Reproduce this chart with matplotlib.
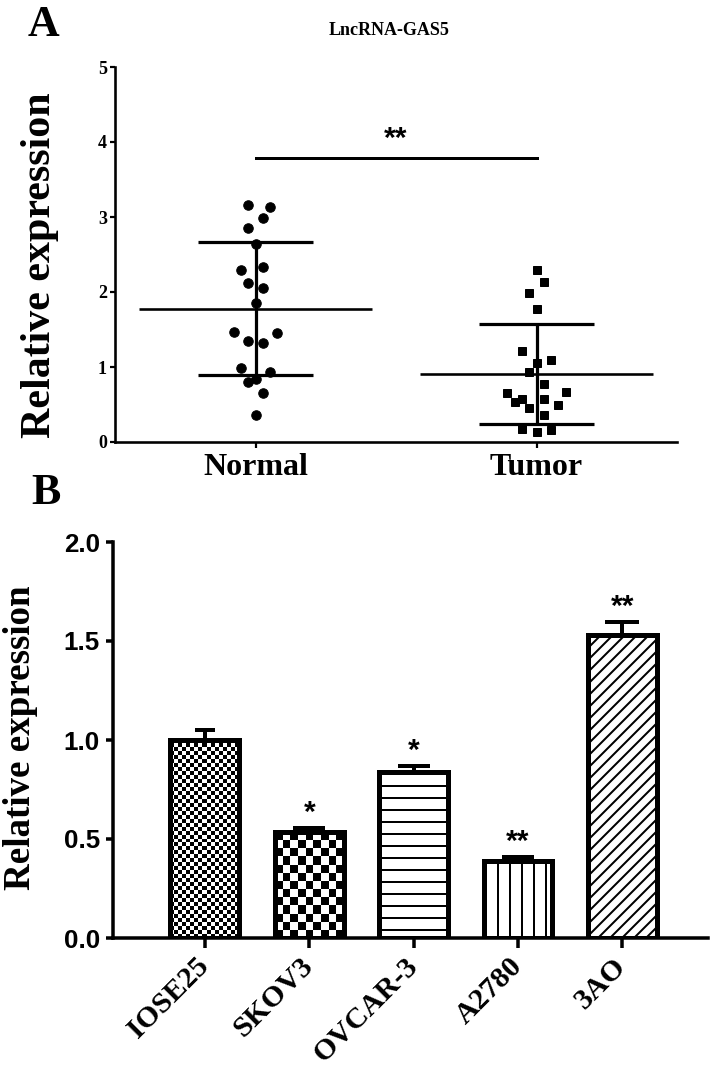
import numpy as np
import matplotlib
matplotlib.use('Agg')
import matplotlib.pyplot as plt

# panel A: relative expression of each sample
groups = ['Normal', 'Tumor']
normal_vals = [3.16, 3.13, 2.99, 2.85, 2.64, 2.34, 2.30, 2.12, 2.06, 1.85,
               1.47, 1.45, 1.35, 1.32, 0.99, 0.93, 0.84, 0.80, 0.65, 0.36]
normal_cols = [-1, 2, 1, -1, 0, 1, -2, -1, 1, 0, -3, 3, -1, 1, -2, 2, 0, -1, 1, 0]
tumor_vals = [2.30, 2.14, 1.99, 1.78, 1.21, 1.10, 1.06, 0.93, 0.77, 0.67,
              0.66, 0.58, 0.58, 0.54, 0.50, 0.46, 0.36, 0.18, 0.16, 0.14]
tumor_cols = [0, 1, -1, 0, -2, 2, 0, -1, 1, 4, -4, -2, 1, -3, 3, -1, 1, -2, 2, 0]

# panel B: cell lines
cell_lines = ['IOSE25', 'SKOV3', 'OVCAR-3', 'A2780', '3AO']
expr = [1.00, 0.535, 0.84, 0.39, 1.53]
expr_err = [0.05, 0.02, 0.03, 0.02, 0.065]
stars = ['', '*', '*', '**', '**']

W, H = 714, 1068
DPI = 72
plt.rcParams['hatch.linewidth'] = 2.0
plt.rcParams['font.family'] = ['Liberation Serif', 'DejaVu Serif']
serif = dict(family='Liberation Serif', weight='bold')
sans = dict(family='Liberation Sans', weight='bold')

fig = plt.figure(figsize=(W / DPI, H / DPI), dpi=DPI)


def px_box(x0, y0, x1, y1):
    # figure pixel box (top-left origin) -> add_axes rect
    return [x0 / W, 1 - y1 / H, (x1 - x0) / W, (y1 - y0) / H]


# ---------------- panel A ----------------
axA = fig.add_axes(px_box(115, 67, 677, 442))
step = 0.026
for i, (vals, cols, mk, ms) in enumerate([(normal_vals, normal_cols, 'o', 9.5),
                                            (tumor_vals, tumor_cols, 's', 8.5)]):
    vals = np.array(vals)
    xs = i + np.array(cols) * step
    axA.plot(xs, vals, linestyle='none', marker=mk, ms=ms, color='black', zorder=3)
    m = vals.mean()
    sd = vals.std(ddof=1)
    axA.hlines(m, i - 0.415, i + 0.415, color='black', lw=2.6, zorder=2)
    axA.vlines(i, m - sd, m + sd, color='black', lw=3.2, zorder=2)
    axA.hlines([m - sd, m + sd], i - 0.205, i + 0.205, color='black', lw=3.2, zorder=2)

# significance bar
axA.plot([0, 1], [3.79, 3.79], color='black', lw=3)
axA.text(0.5, 3.86, '**', ha='center', va='bottom', fontsize=30, **sans)

axA.set_xlim(-0.5, 1.5)
axA.set_ylim(0, 5)
axA.set_yticks([0, 1, 2, 3, 4, 5])
axA.set_xticks([0, 1])
axA.set_xticklabels(groups, fontsize=32, **serif)
for lab in axA.get_yticklabels():
    lab.set_fontsize(18)
    lab.set_fontweight('bold')
for s in ['top', 'right']:
    axA.spines[s].set_visible(False)
for s in ['left', 'bottom']:
    axA.spines[s].set_linewidth(2.6)
axA.tick_params(axis='y', length=5, width=2.2, pad=3)
axA.tick_params(axis='x', length=6, width=2.2, pad=5)

fig.text(28 / W, 1 - 36 / H, 'A', ha='left', va='baseline', fontsize=44, **serif)
fig.text(389 / W, 1 - 35 / H, 'LncRNA-GAS5', ha='center', va='baseline', fontsize=18, **serif)
fig.text(40 / W, 1 - 265 / H, 'Relative expression', rotation=90, ha='center', va='center',
         fontsize=42, **serif)

# ---------------- panel B ----------------
axB = fig.add_axes(px_box(113, 542, 708, 938))
xpos = np.arange(len(cell_lines))
bars = axB.bar(xpos, expr, width=0.66, color='white', edgecolor='black', lw=5, zorder=3)
axB.set_xlim(-0.88, 4.82)
axB.set_ylim(0, 2.0)

hatches = [None, None, '-', '|', '//']
for b, h in zip(bars, hatches):
    if h:
        b.set_hatch(h)

# checkerboard fills for the first two bars, clipped to the bar outline
px_per_x = axB.transData.transform((1, 0))[0] - axB.transData.transform((0, 0))[0]
px_per_y = axB.transData.transform((0, 1))[1] - axB.transData.transform((0, 0))[1]
for b, sq in zip(bars[:2], [4.0, 8.0]):
    x0, w, hgt = b.get_x(), b.get_width(), b.get_height()
    ncol = int(round(w * px_per_x / sq))
    nrow = int(round(hgt * px_per_y / sq))
    board = (np.add.outer(np.arange(nrow), np.arange(ncol)) % 2).astype(float)
    im = axB.imshow(board, extent=(x0, x0 + w, 0, hgt), cmap='gray', vmin=0, vmax=1,
                    interpolation='nearest', aspect='auto', origin='lower', zorder=2)
    im.set_clip_path(b)
    b.set_facecolor('none')

capsizes = [10, 16, 16, 16, 17]
for x, v, e, cs in zip(xpos, expr, expr_err, capsizes):
    axB.errorbar(x, v, yerr=[[0], [e]], fmt='none', ecolor='black', elinewidth=4,
                 capsize=cs, capthick=4, zorder=4)

for x, v, e, s in zip(xpos, expr, expr_err, stars):
    if s:
        axB.text(x, v + e + 0.005, s, ha='center', va='bottom', fontsize=30, **sans)

axB.set_xlim(-0.88, 4.82)
axB.set_ylim(0, 2.0)
axB.set_yticks([0.0, 0.5, 1.0, 1.5, 2.0])
axB.set_yticklabels(['0.0', '0.5', '1.0', '1.5', '2.0'], fontsize=26, **sans)
axB.set_xticks(xpos)
axB.set_xticklabels(cell_lines, fontsize=30, rotation=45, ha='right', va='center',
                    rotation_mode='anchor', **serif)
for s in ['top', 'right']:
    axB.spines[s].set_visible(False)
for s in ['left', 'bottom']:
    axB.spines[s].set_linewidth(3.5)
axB.tick_params(axis='y', length=7, width=3.5, pad=6)
axB.tick_params(axis='x', length=10, width=3.5, pad=14)

fig.text(31 / W, 1 - 504 / H, 'B', ha='left', va='baseline', fontsize=44, **serif)
fig.text(21 / W, 1 - 738 / H, 'Relative expression', rotation=90, ha='center', va='center',
         fontsize=37, **serif)

plt.savefig('out.png', dpi=DPI)
